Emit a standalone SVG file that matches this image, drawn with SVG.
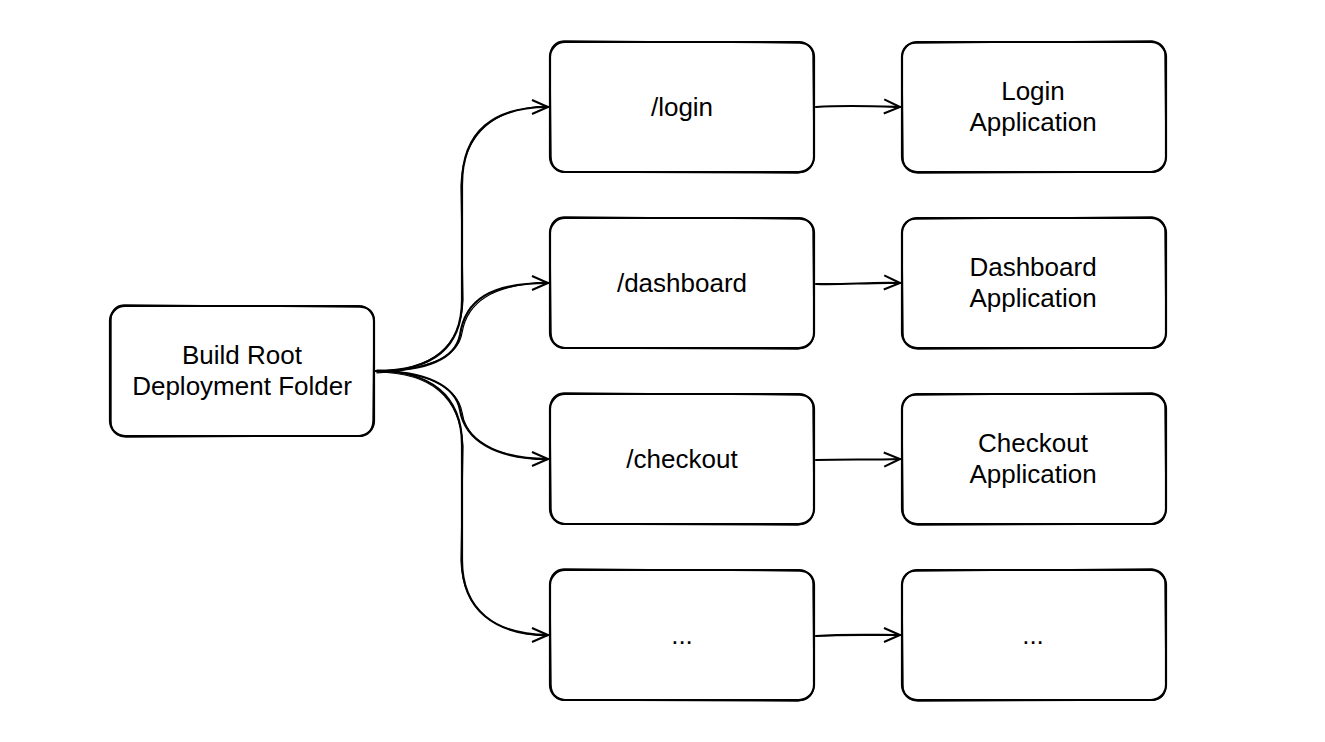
<svg xmlns="http://www.w3.org/2000/svg" width="1325" height="742" viewBox="0 0 1325 742">
<style>
.box{fill:#fff;stroke:#000;stroke-width:2.2;}
.box2{fill:none;stroke:#000;stroke-width:1.3;}
.t{font-family:"Liberation Sans",Arial,sans-serif;font-size:26px;fill:#000;text-anchor:middle;}
.c{fill:none;stroke:#000;stroke-width:2.2;stroke-linecap:round;}
.c2{fill:none;stroke:#000;stroke-width:1.2;stroke-linecap:round;}
</style>
<defs>
<marker id="arr" viewBox="0 0 20 20" refX="18" refY="10" markerWidth="20" markerHeight="20" markerUnits="userSpaceOnUse" orient="auto">
<path d="M2,3 L18,10 L2,17" fill="none" stroke="#000" stroke-width="2" stroke-linejoin="miter"/>
</marker>
</defs>
<rect width="1325" height="742" fill="#fff"/>
<g id="connectors">
<path class="c" d="M376,371 C430,371 462,350 462,300 L462,185 C462,130 495,107 548,107" marker-end="url(#arr)"/>
<path class="c2" d="M377,372 C432,369 461,348 463,300 L461,186 C463,131 496,108 547,106"/>
<path class="c" d="M376,371 C425,371 455,360 460,335 C465,300 490,283 548,283" marker-end="url(#arr)"/>
<path class="c2" d="M377,373 C427,369 458,358 462,333 C467,302 492,285 547,282"/>
<path class="c" d="M376,371 C425,371 455,385 460,410 C465,440 495,459 548,459" marker-end="url(#arr)"/>
<path class="c2" d="M377,370 C427,372 457,387 462,412 C466,441 494,457 547,460"/>
<path class="c" d="M376,371 C430,371 462,395 462,445 L462,560 C462,610 495,635 548,635" marker-end="url(#arr)"/>
<path class="c2" d="M377,372 C432,373 460,397 463,446 L461,561 C463,611 494,633 547,636"/>
<path class="c" d="M816,107 C845,105 870,106 900,107" marker-end="url(#arr)"/>
<path class="c" d="M816,284 C845,285 870,282 900,283" marker-end="url(#arr)"/>
<path class="c" d="M816,460 C845,459 870,460 900,459" marker-end="url(#arr)"/>
<path class="c" d="M816,636 C845,634 870,635 900,635" marker-end="url(#arr)"/>
</g>
<g id="root">
<rect class="box" x="110" y="306" width="264" height="130" rx="15"/>
<path class="box2" d="M124,305 L360,307 Q375,308 374,322 L373,420 Q373,435 358,436 L126,437 Q111,436 111,421 L111,320 Q111,306 124,305"/>
<text class="t" x="242" y="364">Build Root</text>
<text class="t" x="242" y="395">Deployment Folder</text>
</g>
<g id="login">
<rect class="box" x="550" y="42" width="264" height="130" rx="15"/>
<path class="box2" d="M564,41 L800,43 Q814,44 813,58 L814,157 Q813,172 798,173 L566,172 Q551,171 551,156 L550,56 Q551,42 564,41"/>
<text class="t" x="682" y="116">/login</text>
</g>
<g id="login-app">
<rect class="box" x="902" y="42" width="264" height="130" rx="15"/>
<path class="box2" d="M916,43 L1152,41 Q1166,43 1165,57 L1166,158 Q1165,173 1150,172 L918,173 Q903,172 903,157 L902,57 Q903,43 916,43"/>
<text class="t" x="1033" y="100">Login</text>
<text class="t" x="1033" y="131">Application</text>
</g>
<g id="dashboard">
<rect class="box" x="550" y="218" width="264" height="130" rx="15"/>
<path class="box2" d="M564,217 L800,219 Q814,220 813,234 L814,333 Q813,348 798,349 L566,348 Q551,347 551,332 L550,232 Q551,218 564,217"/>
<text class="t" x="682" y="292">/dashboard</text>
</g>
<g id="dashboard-app">
<rect class="box" x="902" y="218" width="264" height="130" rx="15"/>
<path class="box2" d="M916,219 L1152,217 Q1166,219 1165,233 L1166,334 Q1165,349 1150,348 L918,349 Q903,348 903,333 L902,233 Q903,219 916,219"/>
<text class="t" x="1033" y="276">Dashboard</text>
<text class="t" x="1033" y="307">Application</text>
</g>
<g id="checkout">
<rect class="box" x="550" y="394" width="264" height="130" rx="15"/>
<path class="box2" d="M564,393 L800,395 Q814,396 813,410 L814,509 Q813,524 798,525 L566,524 Q551,523 551,508 L550,408 Q551,394 564,393"/>
<text class="t" x="682" y="468">/checkout</text>
</g>
<g id="checkout-app">
<rect class="box" x="902" y="394" width="264" height="130" rx="15"/>
<path class="box2" d="M916,395 L1152,393 Q1166,395 1165,409 L1166,510 Q1165,525 1150,524 L918,525 Q903,524 903,509 L902,409 Q903,395 916,395"/>
<text class="t" x="1033" y="452">Checkout</text>
<text class="t" x="1033" y="483">Application</text>
</g>
<g id="more">
<rect class="box" x="550" y="570" width="264" height="130" rx="15"/>
<path class="box2" d="M564,569 L800,571 Q814,572 813,586 L814,685 Q813,700 798,701 L566,700 Q551,699 551,684 L550,584 Q551,570 564,569"/>
<text class="t" x="682" y="644">...</text>
</g>
<g id="more-app">
<rect class="box" x="902" y="570" width="264" height="130" rx="15"/>
<path class="box2" d="M916,571 L1152,569 Q1166,571 1165,585 L1166,686 Q1165,701 1150,700 L918,701 Q903,700 903,685 L902,585 Q903,571 916,571"/>
<text class="t" x="1033" y="644">...</text>
</g>
</svg>
